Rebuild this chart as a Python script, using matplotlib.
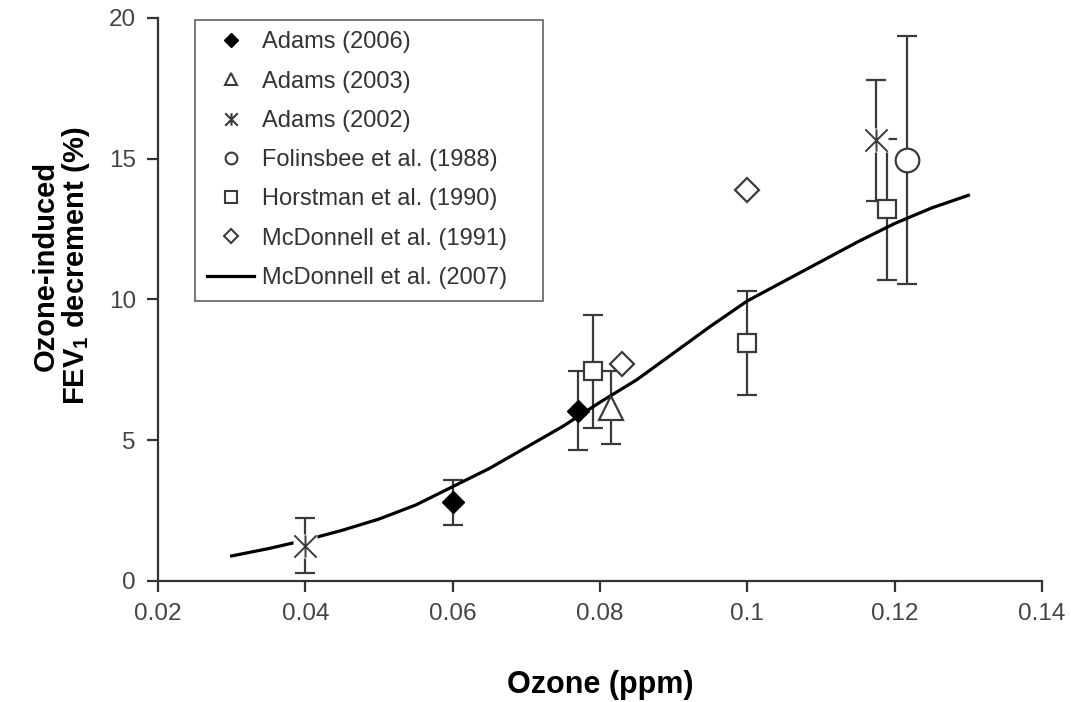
import matplotlib
matplotlib.use('Agg')
import matplotlib.pyplot as plt
import numpy as np
from matplotlib.path import Path
from matplotlib.lines import Line2D

plt.rcParams['font.family'] = ['Liberation Sans', 'DejaVu Sans']
plt.rcParams['mathtext.fontset'] = 'custom'
plt.rcParams['mathtext.rm'] = 'Liberation Sans:bold'
plt.rcParams['mathtext.bf'] = 'Liberation Sans:bold'

# data
adams2006_x = [0.060, 0.077]
adams2006_y = [2.8, 6.05]
adams2006_err = [0.8, 1.4]

adams2003_x = [0.0815]
adams2003_y = [6.15]
adams2003_err = [1.3]

adams2002_x = [0.040, 0.1175]
adams2002_y = [1.25, 15.65]
adams2002_err = [0.97, 2.15]

folinsbee_x = [0.1217]
folinsbee_y = [14.95]
folinsbee_err = [4.4]

horstman_x = [0.079, 0.100, 0.119]
horstman_y = [7.45, 8.45, 13.2]
horstman_err = [2.0, 1.85, 2.5]

mcd1991_x = [0.083, 0.100]
mcd1991_y = [7.7, 13.9]

mcd2007_x = [0.030, 0.035, 0.040, 0.045, 0.050, 0.055, 0.060, 0.065, 0.070, 0.075,
             0.080, 0.085, 0.090, 0.095, 0.100, 0.105, 0.110, 0.115, 0.120, 0.125, 0.130]
mcd2007_y = [0.89, 1.15, 1.45, 1.8, 2.2, 2.7, 3.35, 4.0, 4.75, 5.5,
             6.35, 7.15, 8.1, 9.05, 9.95, 10.65, 11.35, 12.05, 12.7, 13.25, 13.7]

# asterisk marker: X with a vertical stroke
star = Path([(-1, -1), (1, 1), (-1, 1), (1, -1), (0, -1), (0, 1)],
            [Path.MOVETO, Path.LINETO, Path.MOVETO, Path.LINETO, Path.MOVETO, Path.LINETO])

ec = '#3a3a3a'
fig = plt.figure(figsize=(10.71, 7.02), dpi=100)
ax = fig.add_axes([0.1475, 0.1724, 0.8255, 0.802])

ax.plot(mcd2007_x, mcd2007_y, color='black', lw=2.3, zorder=2)

ebkw = dict(fmt='none', ecolor=ec, elinewidth=1.6, capsize=7, capthick=1.6, zorder=1)
for xs, ys, es in [(adams2006_x, adams2006_y, adams2006_err),
                   (adams2003_x, adams2003_y, adams2003_err),
                   (adams2002_x, adams2002_y, adams2002_err),
                   (folinsbee_x, folinsbee_y, folinsbee_err),
                   (horstman_x, horstman_y, horstman_err)]:
    ax.errorbar(xs, ys, yerr=es, **ebkw)

ax.plot(horstman_x, horstman_y, 's', ms=13.5, mfc='white', mec=ec, mew=1.6, zorder=3)
ax.plot(adams2003_x, adams2003_y, '^', ms=17, mfc='white', mec=ec, mew=1.6, zorder=3)
ax.plot(folinsbee_x, folinsbee_y, 'o', ms=17, mfc='white', mec=ec, mew=1.6, zorder=3)
ax.plot(mcd1991_x, mcd1991_y, 'D', ms=12.5, mfc='white', mec=ec, mew=1.6, zorder=3)
ax.plot(adams2006_x, adams2006_y, 'D', ms=11, mfc='black', mec='black', zorder=4)
ax.plot(adams2002_x, adams2002_y, 's', ms=17, mfc='white', mec='none', zorder=4)
ax.plot(adams2002_x, adams2002_y, marker=star, ls='none', ms=16, mfc='none', mec=ec, mew=1.4, zorder=5)

ax.set_xlim(0.02, 0.14)
ax.set_ylim(0, 20)
ax.set_xticks([0.02, 0.04, 0.06, 0.08, 0.1, 0.12, 0.14])
ax.set_xticklabels(['0.02', '0.04', '0.06', '0.08', '0.1', '0.12', '0.14'])
ax.set_yticks([0, 5, 10, 15, 20])
for s in ['top', 'right']:
    ax.spines[s].set_visible(False)
for s in ['left', 'bottom']:
    ax.spines[s].set_color('#333333')
    ax.spines[s].set_linewidth(1.6)
ax.tick_params(direction='out', length=8, width=1.6, color='#333333',
               labelsize=17.5, labelcolor='#444444', pad=8)

ax.set_xlabel('Ozone (ppm)', fontsize=22, fontweight='bold')
ax.xaxis.set_label_coords(0.5, -0.159)
ax.set_ylabel('Ozone-induced\nFEV$_\\mathrm{1}$ decrement (%)', fontsize=21,
              fontweight='bold', linespacing=1.0)
ax.yaxis.set_label_coords(-0.075, 0.56)

handles = [
    Line2D([], [], ls='none', marker='D', ms=7, mfc='black', mec='black'),
    Line2D([], [], ls='none', marker='^', ms=8.5, mfc='white', mec=ec, mew=1.5),
    Line2D([], [], ls='none', marker=star, ms=9, mfc='none', mec=ec, mew=1.5),
    Line2D([], [], ls='none', marker='o', ms=8.5, mfc='white', mec=ec, mew=1.5),
    Line2D([], [], ls='none', marker='s', ms=8, mfc='white', mec=ec, mew=1.5),
    Line2D([], [], ls='none', marker='D', ms=7, mfc='white', mec=ec, mew=1.5),
    Line2D([], [], color='black', lw=2.3),
]
labels = ['Adams (2006)', 'Adams (2003)', 'Adams (2002)', 'Folinsbee et al. (1988)',
          'Horstman et al. (1990)', 'McDonnell et al. (1991)', 'McDonnell et al. (2007)']
leg = ax.legend(handles, labels, loc='upper left', bbox_to_anchor=(0.042, 0.5, 0.394, 0.497),
                mode='expand', fontsize=17, frameon=True, fancybox=False, edgecolor='#555555',
                labelspacing=0.73, handlelength=2.0, handletextpad=0.35,
                borderpad=0.5, borderaxespad=0)
leg.get_frame().set_linewidth(1.4)
for t in leg.get_texts():
    t.set_color('#333333')

fig.savefig('out.png', dpi=100)
